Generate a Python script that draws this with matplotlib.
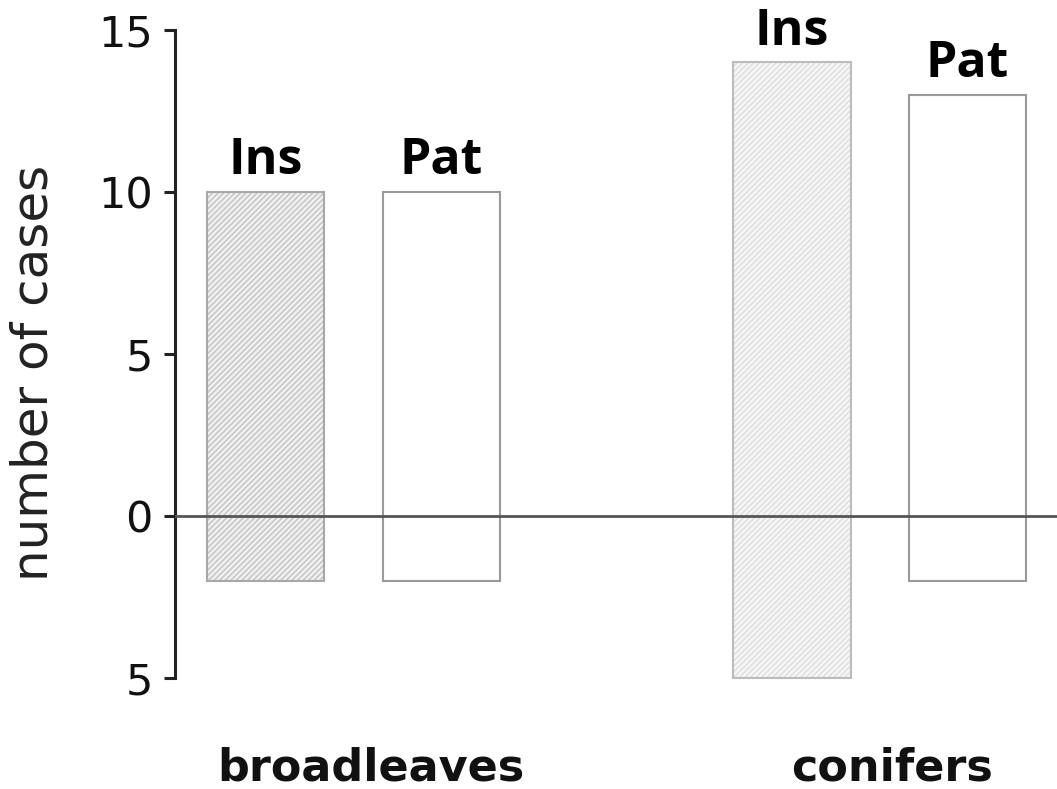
import matplotlib.pyplot as plt
import numpy as np

# values
groups = ['broadleaves', 'conifers']
bar_labels = ['Ins', 'Pat', 'Ins', 'Pat']
bar_pos = [0, 1, 3, 4]
tops = [10, 10, 14, 13]
bottoms = [-2, -2, -5, -2]
ytick_vals = [-5, 0, 5, 10, 15]
ytick_text = ['5', '0', '5', '10', '15']

fig = plt.figure(figsize=(10.57, 7.89), dpi=100)
ax = fig.add_axes([175 / 1057, 0, 1 - 175 / 1057, 1])

heights = np.array(tops) - np.array(bottoms)
hatch_cols = ['#c2c2c2', None, '#dedede', None]
face_cols = ['#f0f0f0', 'white', '#f6f6f6', 'white']
edge_cols = ['#a8a8a8', '#9a9a9a', '#bcbcbc', '#9a9a9a']

for i in range(len(bar_pos)):
    if hatch_cols[i]:
        ax.bar(bar_pos[i], heights[i], bottom=bottoms[i], width=0.667,
               color=face_cols[i], edgecolor=hatch_cols[i], hatch='//////',
               linewidth=0, zorder=1)
    else:
        ax.bar(bar_pos[i], heights[i], bottom=bottoms[i], width=0.667,
               color=face_cols[i], linewidth=0, zorder=1)
    ax.bar(bar_pos[i], heights[i], bottom=bottoms[i], width=0.667,
           fill=False, edgecolor=edge_cols[i], linewidth=1.5, zorder=2)
    ax.text(bar_pos[i], tops[i] + 0.55, bar_labels[i], ha='center', va='baseline',
            fontsize=36, fontweight='bold', family='Open Sans', color='black')

ax.axhline(0, color='#555555', linewidth=2, zorder=3)

ax.set_xlim(-0.516, 4.51)
ax.set_ylim(-8.426, 15.926)

for sp in ['top', 'right', 'bottom']:
    ax.spines[sp].set_visible(False)
ax.spines['left'].set_bounds(-5, 15)
ax.spines['left'].set_linewidth(2.2)
ax.spines['left'].set_color('#222222')

ax.set_yticks(ytick_vals)
ax.set_yticklabels(ytick_text)
ax.tick_params(axis='y', direction='out', length=8, width=2.2, color='#222222',
               labelsize=31, labelcolor='#111111', pad=8)
ax.set_xticks([])

ax.set_ylabel('number of cases', fontsize=36, color='#222222')
ax.yaxis.set_label_coords(-0.133, 0.528)

ax.text(0.6, -7.78, groups[0], ha='center', va='center', fontsize=32,
        fontweight='bold', color='#111111')
ax.text(3.57, -7.78, groups[1], ha='center', va='center', fontsize=32,
        fontweight='bold', color='#111111')

fig.savefig('out.png', dpi=100)
